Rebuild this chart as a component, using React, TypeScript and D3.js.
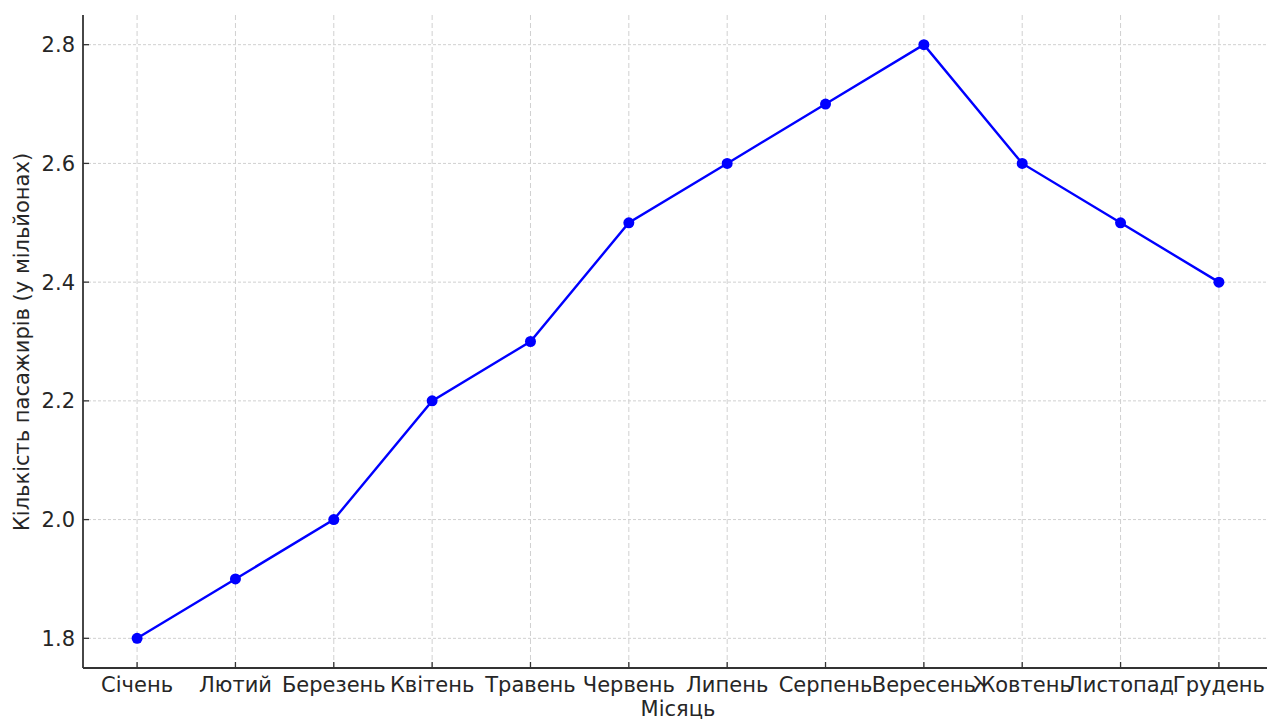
import React from "react";
import * as d3 from "d3";

const months = ["Січень","Лютий","Березень","Квітень","Травень","Червень","Липень","Серпень","Вересень","Жовтень","Листопад","Грудень"];
const passengers = [1.8, 1.9, 2.0, 2.2, 2.3, 2.5, 2.6, 2.7, 2.8, 2.6, 2.5, 2.4];
const yTicks = [1.8, 2.0, 2.2, 2.4, 2.6, 2.8];

const W = 1267, H = 722;
const left = 83, right = 1273, top = 15, bottom = 668;

export default function App() {
  const x = d3.scaleLinear().domain([-0.55, 11.55]).range([left, right]);
  const y = d3.scaleLinear().domain([1.75, 2.85]).range([bottom, top]);
  const line = d3.line<number>().x((_, i) => x(i)).y(d => y(d));
  const font = "DejaVu Sans, sans-serif";
  const fs = 21;
  return (
    <svg width={W} height={H} style={{ position: "absolute", left: 0, top: 0, background: "#fff" }} fontFamily={font}>
      {months.map((m, i) => (
        <line key={"gx" + i} x1={x(i)} x2={x(i)} y1={top} y2={bottom} stroke="#d0d0d0" strokeWidth={1} strokeDasharray="5,3" />
      ))}
      {yTicks.map((t) => (
        <line key={"gy" + t} x1={left} x2={W} y1={y(t)} y2={y(t)} stroke="#d0d0d0" strokeWidth={1} strokeDasharray="3,2" />
      ))}
      <line x1={left} x2={left} y1={top} y2={bottom} stroke="#333" strokeWidth={1.8} />
      <line x1={left} x2={W} y1={bottom} y2={bottom} stroke="#333" strokeWidth={1.8} />
      {months.map((m, i) => (
        <g key={"tx" + i}>
          <line x1={x(i)} x2={x(i)} y1={bottom} y2={bottom - 6} stroke="#333" strokeWidth={1.3} />
          <text x={x(i)} y={692} textAnchor="middle" fontSize={fs} fill="#262626">{m}</text>
        </g>
      ))}
      {yTicks.map((t) => (
        <g key={"ty" + t}>
          <line x1={left} x2={left + 6} y1={y(t)} y2={y(t)} stroke="#333" strokeWidth={1.3} />
          <text x={75} y={y(t)} dy="0.36em" textAnchor="end" fontSize={fs} fill="#262626">{d3.format(".1f")(t)}</text>
        </g>
      ))}
      <text x={678} y={716} textAnchor="middle" fontSize={fs} fill="#262626">Місяць</text>
      <text transform={`translate(29,342) rotate(-90)`} textAnchor="middle" fontSize={fs} fill="#262626">Кількість пасажирів (у мільйонах)</text>
      <path d={line(passengers) || ""} fill="none" stroke="#0000ff" strokeWidth={2.4} />
      {passengers.map((v, i) => (
        <circle key={"p" + i} cx={x(i)} cy={y(v)} r={5.5} fill="#0000ff" />
      ))}
    </svg>
  );
}
